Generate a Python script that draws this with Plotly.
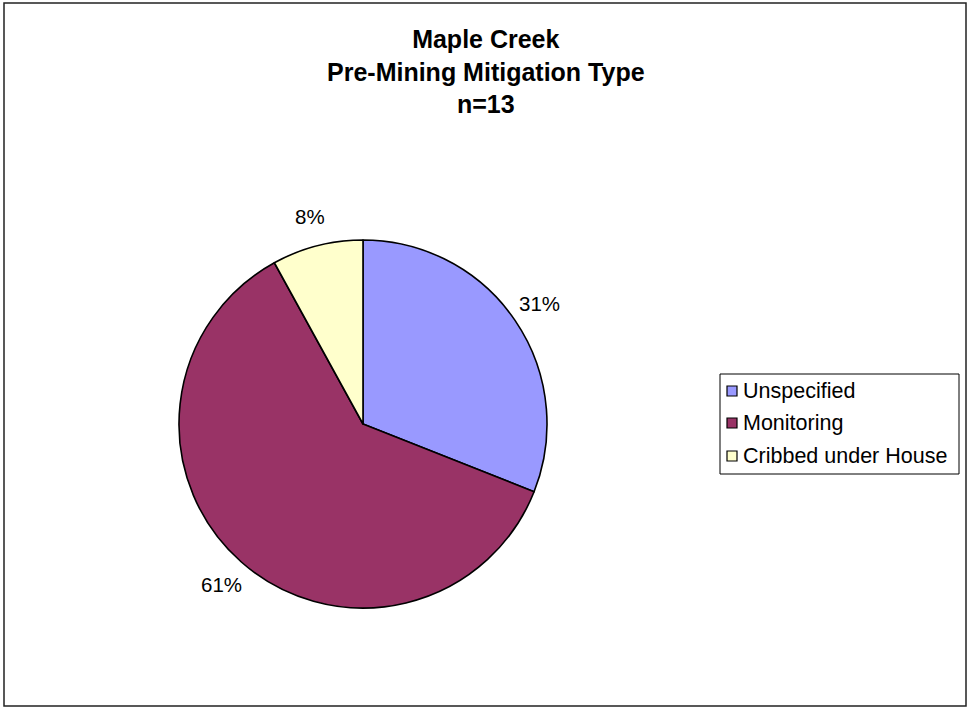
import math
import plotly.graph_objects as go

# Mitigation categories and their shares (percent)
categories = ["Unspecified", "Monitoring", "Cribbed under House"]
shares = [31, 61, 8]
colors = ["#9999FF", "#993366", "#FFFFCC"]
title_lines = ["Maple Creek", "Pre-Mining Mitigation Type", "n=13"]

W, H = 969, 709
FONT = "Liberation Sans, Arial, sans-serif"


def px_x(x):
    return x / W


def px_y(y):
    return 1 - y / H


# pie geometry in page pixels
cx, cy, r = 363, 424, 184
label_r = 214

fig = go.Figure(
    go.Pie(
        labels=categories,
        values=shares,
        sort=False,
        direction="clockwise",
        rotation=0,
        marker=dict(colors=colors, line=dict(color="black", width=1.6)),
        textinfo="none",
        hoverinfo="label+percent",
        showlegend=False,
        domain=dict(x=[px_x(cx - r), px_x(cx + r)], y=[px_y(cy + r), px_y(cy - r)]),
    )
)

annotations = []
# percentage labels placed outside each slice at its mid angle
total = sum(shares)
cum = 0
for v in shares:
    mid = (cum + v / 2) / total * 2 * math.pi
    cum += v
    lx = cx + label_r * math.sin(mid)
    ly = cy - label_r * math.cos(mid)
    annotations.append(dict(
        x=px_x(lx), y=px_y(ly), xref="paper", yref="paper",
        text=f"{round(v / total * 100)}%", showarrow=False,
        font=dict(family=FONT, size=20.5, color="black"),
        xanchor="center", yanchor="middle",
    ))

# chart title
annotations.append(dict(
    x=px_x(486), y=px_y(72), xref="paper", yref="paper",
    text="<b>" + "<br>".join(title_lines) + "</b>", showarrow=False,
    xanchor="center", yanchor="middle", align="center",
    font=dict(family=FONT, size=25, color="black"),
))

# outer frame and boxed legend
shapes = [
    dict(type="rect", xref="paper", yref="paper",
         x0=px_x(4), x1=px_x(966), y0=px_y(706), y1=px_y(3),
         line=dict(color="#222222", width=1.5), fillcolor="rgba(0,0,0,0)"),
    dict(type="rect", xref="paper", yref="paper",
         x0=px_x(720), x1=px_x(959), y0=px_y(474), y1=px_y(374),
         line=dict(color="black", width=1), fillcolor="white"),
]
row_y = [391, 423, 456]
for name, col, yy in zip(categories, colors, row_y):
    shapes.append(dict(type="rect", xref="paper", yref="paper",
                       x0=px_x(727), x1=px_x(737), y0=px_y(yy + 5), y1=px_y(yy - 5),
                       line=dict(color="black", width=1.2), fillcolor=col))
    annotations.append(dict(
        x=px_x(741), y=px_y(yy), xref="paper", yref="paper",
        text=name, showarrow=False, xanchor="left", yanchor="middle",
        font=dict(family=FONT, size=21.5, color="black"),
    ))

fig.update_layout(
    width=W, height=H,
    margin=dict(l=0, r=0, t=0, b=0),
    paper_bgcolor="white", plot_bgcolor="white",
    shapes=shapes,
    annotations=annotations,
)

fig.write_html("out.html")
